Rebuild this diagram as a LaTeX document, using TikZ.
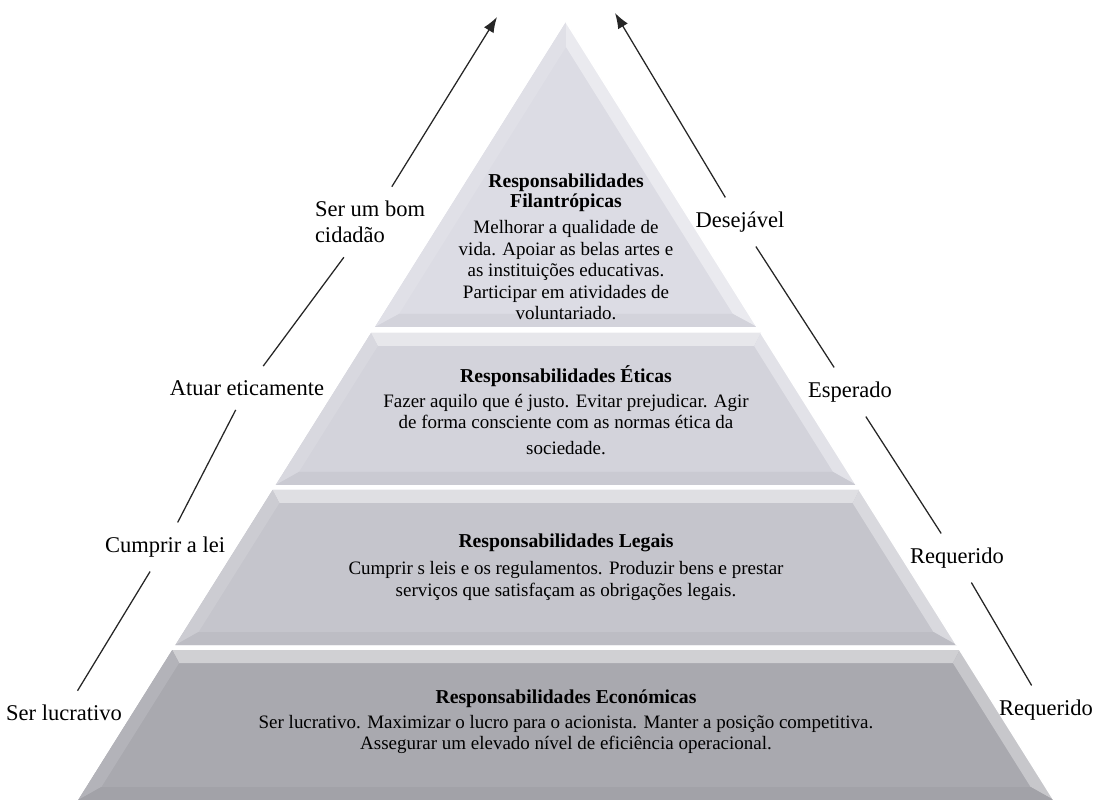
\documentclass[tikz,border=0pt]{standalone}
\usepackage{fontspec}
\setmainfont{Liberation Serif}
\usetikzlibrary{arrows.meta,positioning}
\definecolor{filcol}{HTML}{DCDCE4}
\definecolor{eticol}{HTML}{D3D3DB}
\definecolor{legcol}{HTML}{C5C5CC}
\definecolor{ecocol}{HTML}{A9A9AF}
\newcommand{\ttl}[1]{{\fontsize{14}{15.3}\selectfont\bfseries #1}}
% one bevelled tier of the pyramid: top y, bottom y, colour
\newcommand{\tier}[3]{%
  \pgfmathsetmacro\xlt{566-0.627*(#1-22)}%
  \pgfmathsetmacro\xrt{566+0.627*(#1-22)}%
  \pgfmathsetmacro\xlb{566-0.627*(#2-22)}%
  \pgfmathsetmacro\xrb{566+0.627*(#2-22)}%
  \pgfmathsetmacro\ya{#1+13}%
  \pgfmathsetmacro\yb{#2-13}%
  \pgfmathsetmacro\ilt{566-0.627*(\ya-22)+15}%
  \pgfmathsetmacro\irt{566+0.627*(\ya-22)-15}%
  \pgfmathsetmacro\ilb{566-0.627*(\yb-22)+15}%
  \pgfmathsetmacro\irb{566+0.627*(\yb-22)-15}%
  \fill[#3] (\xlt,#1) -- (\xrt,#1) -- (\xrb,#2) -- (\xlb,#2) -- cycle;
  \fill[#3!55!white] (\xlt,#1) -- (\xrt,#1) -- (\irt,\ya) -- (\ilt,\ya) -- cycle;
  \fill[#3!88!white] (\xlt,#1) -- (\ilt,\ya) -- (\ilb,\yb) -- (\xlb,#2) -- cycle;
  \fill[#3!65!white] (\xrt,#1) -- (\xrb,#2) -- (\irb,\yb) -- (\irt,\ya) -- cycle;
  \fill[#3!96!black] (\xlb,#2) -- (\ilb,\yb) -- (\irb,\yb) -- (\xrb,#2) -- cycle;
  \draw[white,line width=1pt] (\xrt,#1) -- (\xrb,#2);
}

\begin{document}
\begin{tikzpicture}[x=0.025cm,y=-0.025cm,
    lab/.style={font=\fontsize{16}{18.5}\selectfont,inner xsep=2pt,inner ysep=10pt},
    tiertext/.style={font=\fontsize{13.5}{15.3}\selectfont,align=center},
    seg/.style={draw=black!85,line width=0.9pt}]
\useasboundingbox (0,0) rectangle (1094,800);

% pyramid
\fill[filcol] (566,22) -- (757,327) -- (375,327) -- cycle;
\fill[filcol!88!white] (566,22) -- (566,47) -- (399,314) -- (375,327) -- cycle;
\fill[filcol!60!white] (566,22) -- (757,327) -- (733,314) -- (566,47) -- cycle;
\fill[filcol!96!black] (375,327) -- (399,314) -- (733,314) -- (757,327) -- cycle;
\draw[white,line width=1pt] (566,22) -- (757,327);
\tier{333}{485}{eticol}
\tier{490}{645}{legcol}
\tier{650}{800}{ecocol}

% texts of the tiers
\node[tiertext] (fil) at (566,247) {\ttl{Responsabilidades}\\[-1pt]\ttl{Filantrópicas}\\[3pt]
  Melhorar a qualidade de\\vida. Apoiar as belas artes e\\as instituições educativas.\\
  Participar em atividades de\\voluntariado.};
\node[tiertext] (eti) at (566,410) {\ttl{Responsabilidades Éticas}\\[2.5pt]
  Fazer aquilo que é justo. Evitar prejudicar. Agir\\de forma consciente com as normas ética da\\[3pt]sociedade.};
\node[tiertext] (leg) at (566,567) {\ttl{Responsabilidades Legais}\\[4pt]
  Cumprir s leis e os regulamentos. Produzir bens e prestar\\serviços que satisfaçam as obrigações legais.};
\node[tiertext] (eco) at (566,722) {\ttl{Responsabilidades Económicas}\\[2pt]
  Ser lucrativo. Maximizar o lucro para o acionista. Manter a posição competitiva.\\
  Assegurar um elevado nível de eficiência operacional.};

% left scale
\node[lab] (lucr) at (64,713) {Ser lucrativo};
\node[lab] (cump) at (165,547) {Cumprir a lei};
\node[lab] (atuar) at (247,388) {Atuar eticamente};
\node[lab,align=left] (cid) at (370,222) {Ser um bom\\cidadão};
\coordinate (ltip) at (497,17);
\draw[seg] (lucr) -- (cump);
\draw[seg] (cump) -- (atuar);
\draw[seg] (atuar) -- (cid);
\draw[seg,-{Latex[length=11pt,width=8pt]}] (cid) -- (ltip);

% right scale
\node[lab] (req2) at (1046,710) {Requerido};
\node[lab] (req1) at (957,558) {Requerido};
\node[lab] (esp) at (850,392) {Esperado};
\node[lab] (des) at (740,222) {Desejável};
\coordinate (rtip) at (615,13);
\draw[seg] (req2) -- (req1);
\draw[seg] (req1) -- (esp);
\draw[seg] (esp) -- (des);
\draw[seg,-{Latex[length=11pt,width=8pt]}] (des) -- (rtip);
\end{tikzpicture}
\end{document}
